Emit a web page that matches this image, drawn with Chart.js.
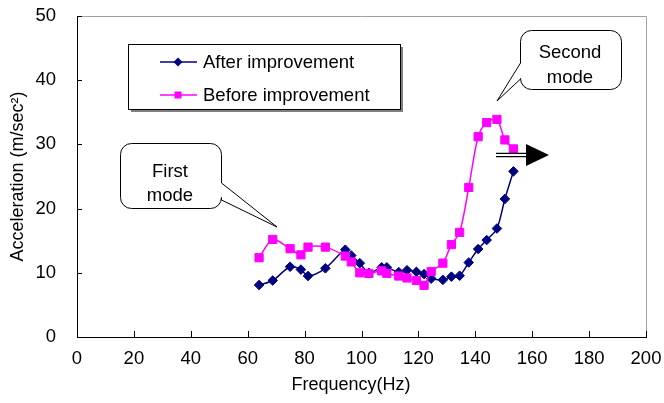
<!DOCTYPE html>
<html>
<head>
<meta charset="utf-8">
<script src="https://cdn.jsdelivr.net/npm/chart.js@4.4.1/dist/chart.umd.min.js"></script>
<style>
  html, body { margin: 0; padding: 0; background: #fff; }
  #wrap { width: 664px; height: 403px; }
</style>
</head>
<body>
<div id="wrap"><canvas id="myChart" width="664" height="403"></canvas></div>
<script>
// frequencies (Hz) where both runs were measured
const freq = [64, 68.8, 74.9, 78.7, 81.2, 87.3, 94.3, 96.4, 99.4, 102.6, 107.1, 108.9, 113.1,
  116, 119.3, 122, 124.5, 128.6, 131.6, 134.5, 137.7, 141, 144, 147.6, 150.4, 153.4];
const afterAcc = [8.1, 8.8, 10.95, 10.5, 9.5, 10.7, 13.6, 12.7, 11.5, 10.0, 10.85, 10.85, 10.1,
  10.4, 10.15, 9.8, 9.1, 8.9, 9.4, 9.55, 11.6, 13.7, 15.1, 16.9, 21.5, 25.8];
const beforeAcc = [12.35, 15.2, 13.75, 12.8, 14.0, 14.0, 12.6, 11.7, 10.0, 9.9, 10.3, 9.9, 9.5,
  9.2, 8.8, 8.05, 10.2, 11.5, 14.4, 16.3, 23.3, 31.2, 33.4, 33.9, 30.7, 29.3];
const seriesNames = ['After improvement', 'Before improvement'];
const xTicks = [0, 20, 40, 60, 80, 100, 120, 140, 160, 180, 200];
const yTicks = [0, 10, 20, 30, 40, 50];

const toPts = (ys) => freq.map((f, i) => ({ x: f, y: ys[i] }));
const FONT = '"Liberation Sans", Arial, sans-serif';

// callouts, legend box, arrow, inside ticks and axis titles
const extras = {
  id: 'extras',
  afterDraw(chart) {
    const ctx = chart.ctx;
    const a = chart.chartArea;
    const xs = chart.scales.x, ys = chart.scales.y;
    ctx.save();

    // grey plot border top/right
    ctx.strokeStyle = '#a0a0a0';
    ctx.lineWidth = 1;
    ctx.beginPath();
    ctx.moveTo(a.left, a.top + 0.5);
    ctx.lineTo(a.right + 0.5, a.top + 0.5);
    ctx.lineTo(a.right + 0.5, a.bottom);
    ctx.stroke();

    // inside ticks
    ctx.strokeStyle = '#000';
    ctx.beginPath();
    xTicks.forEach(v => {
      const p = Math.round(xs.getPixelForValue(v)) + 0.5;
      ctx.moveTo(p, a.bottom); ctx.lineTo(p, a.bottom - 6);
    });
    yTicks.forEach(v => {
      const p = Math.round(ys.getPixelForValue(v)) + 0.5;
      ctx.moveTo(a.left, p); ctx.lineTo(a.left + 5, p);
    });
    ctx.stroke();

    // axis titles
    ctx.fillStyle = '#000';
    ctx.font = '18px ' + FONT;
    ctx.textAlign = 'center';
    ctx.textBaseline = 'middle';
    ctx.fillText('Frequency(Hz)', 351, 385);
    ctx.save();
    ctx.translate(18, (a.top + a.bottom) / 2);
    ctx.rotate(-Math.PI / 2);
    ctx.fillText('Acceleration (m/sec²)', 0, 0);
    ctx.restore();

    // legend box with shadow
    ctx.fillStyle = '#808080';
    ctx.fillRect(131, 47, 272, 65);
    ctx.fillStyle = '#fff';
    ctx.fillRect(128, 44, 272, 65);
    ctx.strokeStyle = '#000';
    ctx.strokeRect(128.5, 44.5, 272, 65);
    const rows = [
      { y: 62, c: '#000080', shape: 'd' },
      { y: 95, c: '#FF00FF', shape: 's' }
    ];
    rows.forEach((r, i) => {
      ctx.strokeStyle = r.c; ctx.lineWidth = 1.5;
      ctx.beginPath(); ctx.moveTo(160, r.y); ctx.lineTo(197, r.y); ctx.stroke();
      ctx.fillStyle = r.c;
      ctx.beginPath();
      if (r.shape === 'd') {
        ctx.moveTo(178, r.y - 4.5); ctx.lineTo(182.5, r.y); ctx.lineTo(178, r.y + 4.5); ctx.lineTo(173.5, r.y);
      } else {
        ctx.rect(174.5, r.y - 3.5, 7, 7);
      }
      ctx.fill();
      ctx.fillStyle = '#000';
      ctx.font = '18.5px ' + FONT;
      ctx.textAlign = 'left';
      ctx.fillText(seriesNames[i], 203, r.y + 1);
    });

    // callout bubbles
    function bubble(x, y, w, h, rad, ptr, lines, ly) {
      ctx.beginPath();
      ctx.moveTo(x + rad, y);
      ctx.lineTo(x + w - rad, y);
      ctx.arcTo(x + w, y, x + w, y + rad, rad);
      if (ptr.side === 'right') {
        ctx.lineTo(x + w, ptr.a);
        ctx.lineTo(ptr.tx, ptr.ty);
        ctx.lineTo(x + w, ptr.b);
      }
      ctx.lineTo(x + w, y + h - rad);
      ctx.arcTo(x + w, y + h, x + w - rad, y + h, rad);
      ctx.lineTo(x + rad, y + h);
      ctx.arcTo(x, y + h, x, y + h - rad, rad);
      if (ptr.side === 'left') {
        ctx.lineTo(x, ptr.b);
        ctx.lineTo(ptr.tx, ptr.ty);
        ctx.lineTo(x, ptr.a);
      }
      ctx.lineTo(x, y + rad);
      ctx.arcTo(x, y, x + rad, y, rad);
      ctx.closePath();
      ctx.fillStyle = '#fff';
      ctx.fill();
      ctx.strokeStyle = '#000';
      ctx.lineWidth = 1;
      ctx.stroke();
      ctx.fillStyle = '#000';
      ctx.font = '18.5px ' + FONT;
      ctx.textAlign = 'center';
      lines.forEach((t, i) => ctx.fillText(t, x + w / 2 - 1, ly[i]));
    }
    bubble(120.5, 143.5, 101, 65, 11, { side: 'right', a: 183, b: 200, tx: 277, ty: 227 },
      ['First', 'mode'], [172, 196]);
    bubble(520.5, 30.5, 101, 59, 11, { side: 'left', a: 63, b: 79, tx: 497, ty: 101 },
      ['Second', 'mode'], [53, 78]);

    // double-line arrow
    ctx.strokeStyle = '#000';
    ctx.lineWidth = 1.3;
    ctx.beginPath();
    ctx.moveTo(496, 153.3); ctx.lineTo(527, 153.3);
    ctx.moveTo(496, 156.7); ctx.lineTo(527, 156.7);
    ctx.stroke();
    ctx.fillStyle = '#000';
    ctx.beginPath();
    ctx.moveTo(526, 144); ctx.lineTo(549, 155); ctx.lineTo(526, 166);
    ctx.closePath();
    ctx.fill();

    ctx.restore();
  }
};

const config = {
  type: 'scatter',
  data: {
    datasets: [{
      label: seriesNames[0],
      data: toPts(afterAcc),
      showLine: true,
      borderColor: '#000080',
      backgroundColor: '#000080',
      borderWidth: 1.5,
      pointStyle: 'rectRot',
      pointRadius: 4.8,
      pointBorderWidth: 1,
      tension: 0.3,
      order: 1
    },
    {
      label: seriesNames[1],
      data: toPts(beforeAcc),
      showLine: true,
      borderColor: '#FF00FF',
      backgroundColor: '#FF00FF',
      borderWidth: 1.5,
      pointStyle: 'rect',
      pointRadius: 5.8,
      pointBorderWidth: 1,
      tension: 0.3,
      order: 0
    }]
  },
  options: {
    responsive: false,
    animation: false,
    layout: { padding: { top: 16, right: 18, left: 0, bottom: 0 } },
    plugins: { legend: { display: false }, tooltip: { enabled: false } },
    scales: {
      x: {
        type: 'linear',
        min: 0, max: 200,
        afterBuildTicks: s => { s.ticks = xTicks.map(v => ({ value: v })); },
        afterFit: s => { s.height = 66; s.paddingLeft = 0; s.paddingRight = 0; },
        grid: { display: false, drawTicks: false },
        border: { display: true, color: '#000', width: 1 },
        ticks: { color: '#000', font: { family: FONT, size: 18.5 }, padding: 11, maxRotation: 0 }
      },
      y: {
        type: 'linear',
        min: 0, max: 50,
        afterBuildTicks: s => { s.ticks = yTicks.map(v => ({ value: v })); },
        afterFit: s => { s.width = 77; s.paddingTop = 0; s.paddingBottom = 0; },
        grid: { display: false, drawTicks: false },
        border: { display: true, color: '#000', width: 1 },
        ticks: { color: '#000', font: { family: FONT, size: 18.5 }, padding: 21 }
      }
    }
  },
  plugins: [extras]
};

var myChart = new Chart(document.getElementById('myChart'), config);
</script>
</body>
</html>
